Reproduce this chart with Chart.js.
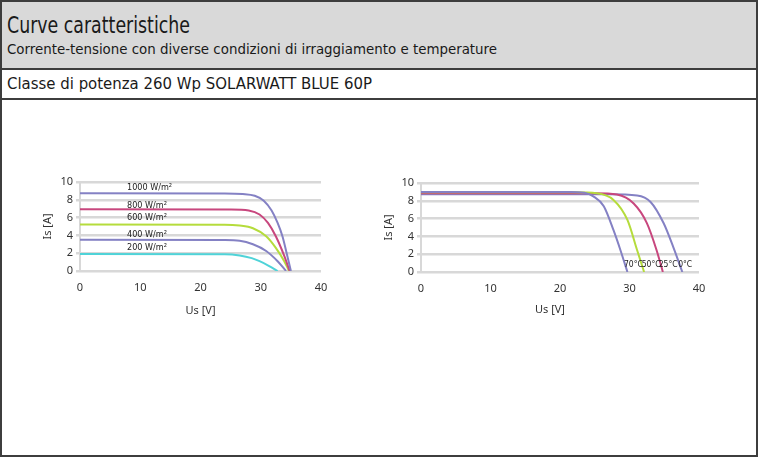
<!DOCTYPE html>
<html>
<head>
<meta charset="utf-8">
<script src="https://cdn.jsdelivr.net/npm/chart.js@4.4.1/dist/chart.umd.min.js"></script>
<style>
  html, body { margin: 0; padding: 0; background: #fff; }
  body { width: 758px; height: 457px; position: relative; overflow: hidden; font-family: "DejaVu Sans Condensed", "DejaVu Sans", sans-serif; color: #1a1a1a; }
  .box { position: absolute; left: 0; width: 758px; box-sizing: border-box; border: 2px solid #3d3d3d; }
  .txt { position: absolute; left: 7px; white-space: nowrap; line-height: 1; transform-origin: 0 0; }
  canvas { position: absolute; }
</style>
</head>
<body>
<div class="box" style="top:0;height:70px;background:#d9d9d9;"></div>
<div class="box" style="top:68px;height:32px;background:#fff;"></div>
<div class="box" style="top:98px;height:359px;background:#fff;"></div>
<div class="txt" id="t1" data-w="183" style="top:14px;font-size:23px;">Curve caratteristiche</div>
<div class="txt" id="t2" data-w="490" style="top:42px;font-size:14px;">Corrente-tensione con diverse condizioni di irraggiamento e temperature</div>
<div class="txt" id="t3" data-w="365" style="top:76px;font-size:16.5px;">Classe di potenza 260 Wp SOLARWATT BLUE 60P</div>

<div style="position:absolute;left:10px;top:165px;width:340px;height:160px;"><canvas id="chartIrr"></canvas></div>
<div style="position:absolute;left:360px;top:165px;width:360px;height:160px;"><canvas id="chartTemp"></canvas></div>

<script>
// tick values
const xTicks = [0, 10, 20, 30, 40];
const yTicks = [0, 2, 4, 6, 8, 10];

// irraggiamento (25 °C)
const irrLabels = ['1000 W/m²', '800 W/m²', '600 W/m²', '400 W/m²', '200 W/m²'];
const irrColors = ['#8481c4', '#c8477e', '#b5dc3c', '#8481c4', '#4fd3d8'];
const u1000 = [0, 24, 27, 29, 30.5, 31.8, 32.8, 33.6, 34.3, 35.0];
const i1000 = [8.73, 8.72, 8.65, 8.45, 7.9, 6.8, 5.4, 3.9, 2.0, 0];
const u800 = [0, 25, 28, 29.8, 31.2, 32.5, 33.9, 34.8];
const i800 = [6.94, 6.92, 6.8, 6.35, 5.4, 3.9, 1.7, 0];
const u600 = [0, 24, 26.5, 28.7, 30.9, 32.5, 33.9, 34.7];
const i600 = [5.22, 5.2, 5.1, 4.8, 3.9, 2.6, 1.1, 0];
const u400 = [0, 24, 26.5, 28.7, 30.9, 32.8, 34.2];
const i400 = [3.5, 3.48, 3.4, 3.0, 2.25, 1.1, 0];
const u200 = [0, 24, 26.5, 28.5, 29.8, 31.4, 32.8];
const i200 = [1.9, 1.88, 1.75, 1.45, 1.1, 0.56, 0];
const irrLabelU = [7.8, 7.8, 7.8, 7.8, 7.8];
const irrLabelI = [9.36, 7.29, 5.95, 4.05, 2.6];

// temperatura (1000 W/m²)
const tempLabels = ['70°C', '50°C', '25°C', '0°C'];
const tempColors = ['#8481c4', '#b5dc3c', '#c8477e', '#8481c4'];
const u70 = [0, 21.5, 23.5, 24.8, 26.3, 27.7, 28.7, 29.7];
const i70 = [9.0, 9.0, 8.9, 8.5, 7.4, 4.7, 2.45, 0];
const u50 = [0, 22, 25.3, 27.7, 29.7, 31.1, 32.1];
const i50 = [8.95, 8.95, 8.85, 8.1, 5.85, 2.45, 0];
const u25 = [0, 25, 28.2, 30.6, 32.5, 33.9, 34.8];
const i25 = [8.85, 8.85, 8.7, 7.7, 5.5, 2.45, 0];
const u0 = [0, 27, 31.1, 33.0, 34.9, 36.3, 37.6];
const i0 = [8.75, 8.75, 8.6, 7.9, 5.5, 2.8, 0];
const tempLabelU = [29.2, 31.75, 34.2, 37.0];
const tempLabelI = [0.8, 0.8, 0.8, 0.8];

// squeeze header text to the reference widths
document.querySelectorAll('.txt').forEach(el => {
  const w = el.getBoundingClientRect().width;
  el.style.transform = `scaleX(${el.dataset.w / w})`;
});

const pts = (u, i) => u.map((v, k) => ({ x: v, y: i[k] }));

const curveLabels = {
  id: 'curveLabels',
  afterDatasetsDraw(chart, args, opts) {
    const { ctx, scales: { x, y } } = chart;
    ctx.save();
    ctx.font = opts.font;
    ctx.fillStyle = '#222';
    ctx.textBaseline = 'middle';
    opts.text.forEach((t, k) => ctx.fillText(t, x.getPixelForValue(opts.u[k]), y.getPixelForValue(opts.i[k])));
    ctx.restore();
  }
};

function makeChart(id, sets, labelOpts, dims) {
  return new Chart(document.getElementById(id), {
    type: 'scatter',
    data: { datasets: sets },
    options: {
      responsive: true, maintainAspectRatio: false, animation: false,
      layout: { padding: { left: 0, right: dims.right, top: dims.top, bottom: 0 } },
      plugins: { legend: { display: false }, tooltip: { enabled: false }, curveLabels: labelOpts },
      elements: { point: { radius: 0 }, line: { borderWidth: 2, cubicInterpolationMode: 'monotone' } },
      scales: {
        x: {
          type: 'linear', min: 0, max: 40,
          afterBuildTicks: s => { s.ticks = xTicks.map(v => ({ value: v })); },
          afterFit: s => { s.height = dims.xh; },
          grid: { display: false, drawTicks: true, tickLength: 4 },
          border: { display: false },
          ticks: { color: '#333', font: { family: 'Noto Sans', size: 11 }, padding: 6, maxRotation: 0 },
          title: { display: true, text: dims.xTitle, color: '#333', font: { family: 'Noto Sans', size: 11 }, padding: { top: 0, bottom: dims.xtp } },
        },
        y: {
          min: 0, max: 10,
          afterBuildTicks: s => { s.ticks = yTicks.map(v => ({ value: v })); },
          afterFit: s => { s.width = dims.yw; },
          grid: { color: '#d8d8d8', lineWidth: 2.5, tickLength: 4 },
          border: { display: true, color: '#d8d8d8', width: 2 },
          ticks: { color: '#333', font: { family: 'Noto Sans', size: 11 }, padding: 3 },
          title: { display: true, text: 'Is [A]', color: '#333', font: { family: 'Noto Sans', size: 11 }, padding: { top: dims.ytp, bottom: 0 } },
        },
      },
    },
    plugins: [curveLabels],
  });
}

const irrSets = [[u1000, i1000], [u800, i800], [u600, i600], [u400, i400], [u200, i200]].map((d, k) => ({
  label: irrLabels[k], data: pts(d[0], d[1]), borderColor: irrColors[k], showLine: true,
}));
const tempSets = [[u70, i70], [u50, i50], [u25, i25], [u0, i0]].map((d, k) => ({
  label: tempLabels[k], data: pts(d[0], d[1]), borderColor: tempColors[k], showLine: true,
}));

makeChart('chartIrr', irrSets,
  { text: irrLabels, u: irrLabelU, i: irrLabelI, font: '9px "DejaVu Sans Condensed"' },
  { right: 29, top: 17, xh: 54, yw: 70, ytp: 31, xtp: 8, xTitle: 'Us [V]' });
makeChart('chartTemp', tempSets,
  { text: tempLabels, u: tempLabelU, i: tempLabelI, font: '8.5px "DejaVu Sans Condensed"' },
  { right: 21, top: 18, xh: 53, yw: 61, ytp: 22, xtp: 9, xTitle: 'Us [V]       ' });
</script>
</body>
</html>
